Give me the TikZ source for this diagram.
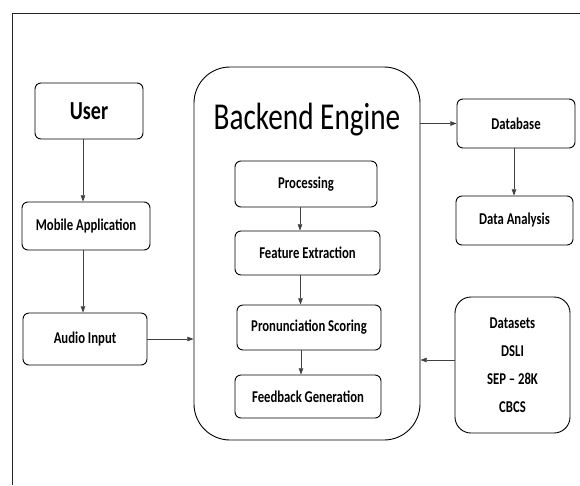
\documentclass[tikz,border=0pt]{standalone}
\usepackage{fontspec}
\setmainfont{Carlito}[FakeStretch=0.77]
\usepackage{tikz}
\usetikzlibrary{positioning,arrows.meta}

\begin{document}
\begin{tikzpicture}[x=1pt, y=-1pt,
  box/.style={draw, line width=0.9pt, rounded corners=6pt, align=center, font=\fontsize{16.5}{18}\selectfont\bfseries,
              inner sep=2pt},
  engine/.style={draw, line width=0.9pt, rounded corners=36pt, minimum width=226pt, minimum height=373pt},
  arr/.style={-{Triangle[length=2.2mm, width=1.6mm]}, line width=0.6pt, black!75}]
\useasboundingbox (0,0) rectangle (580,485);
\draw[line width=0.8pt, black!85] (12,485) -- (12,13) -- (580,13);
\node[box, minimum width=108pt, minimum height=56pt, font=\fontsize{26}{28}\selectfont\bfseries] (user) at (89,111) {User};
\node[box, minimum width=128pt, minimum height=48pt] (mob) at (86,226) {Mobile Application};
\node[box, minimum width=124pt, minimum height=52pt] (audio) at (85,339) {Audio Input};
\node[engine] (eng) at (307,253.5) {};
\node[font=\fontsize{38}{42}\selectfont] (title) at (307,120) {Backend Engine};
\node[box, minimum width=142pt, minimum height=46pt] (proc) at (306,184) {Processing};
\node[box, minimum width=145pt, minimum height=44pt] (feat) at (307.5,253) {Feature Extraction};
\node[box, minimum width=144pt, minimum height=45pt] (pron) at (309,327.5) {Pronunciation Scoring};
\node[box, minimum width=146pt, minimum height=43pt] (fb) at (308,396.5) {Feedback Generation};
\node[box, minimum width=118pt, minimum height=49pt] (db) at (516,123.5) {Database};
\node[box, minimum width=117pt, minimum height=49pt] (da) at (514.5,220.5) {Data Analysis};
\node[box, minimum width=115pt, minimum height=136pt, rounded corners=16pt, font=\fontsize{16.5}{28}\selectfont\bfseries] (ds) at (512.5,365) {Datasets\\DSLI\\SEP -- 28K\\CBCS};
\coordinate (dsout) at ([yshift=5pt]ds.west);
\draw[arr] ([xshift=-6pt]user.south) -- ([xshift=-6pt]user.south |- mob.north);
\draw[arr] ([xshift=-3pt]mob.south) -- ([xshift=-3pt]mob.south |- audio.north);
\draw[arr] (audio.east) -- (eng.west |- audio.east);
\draw[arr] ([xshift=-6pt]proc.south) -- ([xshift=-6pt]proc.south |- feat.north);
\draw[arr] ([xshift=-7pt]feat.south) -- ([xshift=-7pt]feat.south |- pron.north);
\draw[arr] ([xshift=-8pt]pron.south) -- ([xshift=-8pt]pron.south |- fb.north);
\draw[arr] (eng.east |- db.west) -- (db.west);
\draw[arr] ([xshift=-2pt]db.south) -- ([xshift=-2pt]db.south |- da.north);
\draw[arr] (dsout) -- (eng.east |- dsout);
\end{tikzpicture}
\end{document}
